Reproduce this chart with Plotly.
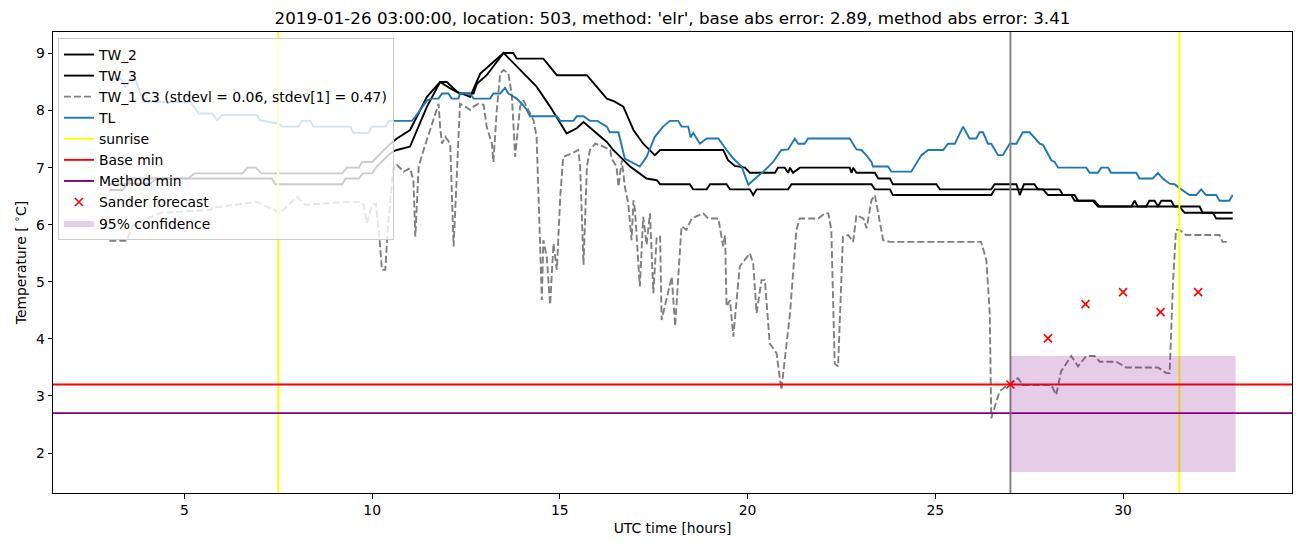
import plotly.graph_objects as go

# ---------------- data (hours UTC, temperature degC) ----------------
tw2_x = [3.0, 3.45, 3.6, 5.1, 5.27, 6.55, 6.68, 6.9, 7.05, 9.2, 9.33, 9.65, 9.73, 10.0, 10.15, 10.3, 10.45,
         10.66, 11.01, 11.46, 11.81, 11.99, 12.26, 12.61, 12.88, 13.14, 13.5, 13.76, 13.85, 14.56, 14.92, 15.72,
         16.25, 16.45, 16.69, 16.96, 17.22, 17.53, 17.67, 19.35, 19.48, 19.66, 19.93, 20.06, 20.73, 20.81, 20.99,
         21.08, 21.13, 21.21, 21.39, 22.72, 22.77, 22.81, 22.9, 23.39, 23.48, 23.79, 23.87, 25.03, 25.12, 26.49,
         26.58, 27.16, 27.25, 27.36, 27.64, 27.73, 28.31, 28.4, 28.71, 28.8, 29.2, 29.33, 30.22, 30.31, 30.39,
         30.62, 30.7, 30.84, 30.93, 31.02, 31.28, 31.37, 32.04, 32.12, 32.92]
tw2_y = [6.71, 6.71, 6.81, 6.81, 6.9, 6.9, 7.0, 7.0, 6.9, 6.9, 7.0, 7.0, 7.1, 7.1, 7.2, 7.3, 7.4,
         7.51, 7.66, 8.24, 8.5, 8.5, 8.33, 8.24, 8.65, 8.8, 9.01, 9.01, 8.91, 8.91, 8.62, 8.62,
         8.21, 8.16, 8.07, 7.66, 7.42, 7.22, 7.31, 7.31, 7.13, 7.03, 7.0, 6.91, 6.91, 7.0, 7.0,
         6.91, 7.0, 6.91, 7.0, 7.0, 6.91, 7.0, 6.91, 6.91, 6.81, 6.81, 6.71, 6.71, 6.62, 6.62,
         6.71, 6.71, 6.52, 6.71, 6.71, 6.62, 6.62, 6.52, 6.52, 6.42, 6.42, 6.32, 6.32, 6.42, 6.32,
         6.32, 6.42, 6.42, 6.32, 6.42, 6.42, 6.32, 6.32, 6.21, 6.21]

tw3_x = [3.0, 3.35, 3.47, 4.1, 4.25, 7.33, 7.42, 9.2, 9.3, 9.65, 9.75, 10.0, 10.1, 10.25, 10.4, 10.55,
         10.66, 11.01, 11.46, 11.81, 12.08, 12.34, 12.7, 12.79, 13.05, 13.5, 13.94, 14.38, 14.74, 15.18, 15.45,
         15.63, 16.07, 16.25, 16.42, 16.87, 17.31, 17.58, 17.67, 18.46, 18.55, 18.91, 19.0, 19.44, 19.53, 20.06,
         20.15, 20.24, 21.08, 21.17, 23.3, 23.39, 23.79, 23.87, 26.49, 26.58, 27.87, 28.0, 28.62, 28.71, 29.24,
         29.37, 31.5, 31.64, 32.39, 32.48, 32.92]
tw3_y = [6.61, 6.61, 6.72, 6.72, 6.81, 6.81, 6.71, 6.71, 6.81, 6.81, 6.9, 6.9, 7.0, 7.1, 7.2, 7.28,
         7.31, 7.37, 8.07, 8.5, 8.39, 8.3, 8.3, 8.47, 8.62, 9.01, 8.71, 8.42, 8.07, 7.6, 7.69,
         7.8, 7.55, 7.45, 7.31, 7.02, 6.81, 6.78, 6.71, 6.71, 6.62, 6.62, 6.71, 6.71, 6.62, 6.62,
         6.52, 6.62, 6.62, 6.71, 6.71, 6.62, 6.62, 6.52, 6.52, 6.62, 6.62, 6.52, 6.52, 6.42, 6.42,
         6.32, 6.32, 6.21, 6.21, 6.11, 6.11]

tw1_x = [3.0, 3.47, 3.61, 3.74, 4.36, 5.69, 5.78, 6.93, 7.38, 7.55, 7.73, 8.0, 8.22, 9.33, 9.68, 9.77,
         9.86, 10.0, 10.1, 10.2, 10.26, 10.35, 10.42, 10.5, 10.57, 10.66, 10.84, 11.01, 11.1, 11.15, 11.24,
         11.37, 11.55, 11.68, 11.77, 11.81, 11.86, 11.95, 12.08, 12.17, 12.26, 12.34, 12.48, 12.61, 12.7,
         12.83, 12.97, 13.05, 13.19, 13.23, 13.32, 13.41, 13.5, 13.63, 13.72, 13.81, 13.94, 14.03, 14.3,
         14.38, 14.47, 14.52, 14.56, 14.65, 14.74, 14.83, 14.92, 15.01, 15.09, 15.32, 15.49, 15.54, 15.63,
         15.72, 15.8, 15.94, 16.16, 16.34, 16.38, 16.51, 16.56, 16.65, 16.73, 16.82, 16.91, 16.96, 17.0,
         17.09, 17.13, 17.22, 17.31, 17.4, 17.49, 17.58, 17.67, 17.71, 17.84, 17.98, 18.07, 18.24, 18.37,
         18.51, 18.82, 18.95, 19.22, 19.35, 19.4, 19.44, 19.53, 19.62, 19.79, 20.06, 20.15, 20.24, 20.37,
         20.46, 20.59, 20.77, 20.9, 21.13, 21.3, 21.39, 21.88, 22.06, 22.15, 22.23, 22.32, 22.41, 22.54,
         22.68, 22.81, 22.9, 23.08, 23.17, 23.3, 23.39, 23.48, 23.61, 23.79, 26.22, 26.36, 26.45, 26.49,
         26.58, 26.71, 26.98, 27.2, 27.33, 28.09, 28.22, 28.35, 28.62, 28.8, 29.02, 29.24, 29.38, 29.82,
         30.08, 30.93, 31.15, 31.24, 31.33, 31.41, 31.5, 31.68, 32.57, 32.65, 32.83]
tw1_y = [5.72, 5.72, 5.97, 6.03, 6.21, 6.26, 6.3, 6.4, 6.26, 6.21, 6.32, 6.49, 6.35, 6.4, 6.4, 6.35,
         6.03, 6.35, 6.37, 5.73, 5.21, 5.21, 5.97, 6.55, 7.02, 7.05, 6.93, 6.99, 6.78, 5.79, 7.02,
         7.31, 7.66, 7.95, 8.12, 7.72, 7.42, 7.54, 7.42, 5.62, 6.96, 8.12, 8.07, 8.01, 8.07,
         8.12, 8.1, 7.72, 7.42, 7.1, 8.01, 8.65, 8.71, 8.65, 8.27, 7.19, 8.07, 8.18, 7.83,
         7.54, 5.73, 4.68, 5.73, 5.44, 4.6, 5.67, 5.21, 6.49, 7.19, 7.25, 7.31, 7.02, 5.3,
         7.02, 7.31, 7.42, 7.37, 7.31, 7.16, 7.02, 6.67, 7.13, 6.67, 6.38, 5.73, 6.43, 6.26,
         5.32, 4.92, 6.14, 5.65, 6.2, 4.8, 5.79, 5.79, 4.33, 4.68, 5.09, 4.22, 5.97, 5.91,
         6.11, 6.2, 6.11, 6.11, 5.62, 5.82, 4.57, 4.68, 4.04, 5.27, 5.5, 5.32, 4.45, 5.03,
         5.03, 3.92, 3.75, 3.11, 4.45, 5.91, 6.11, 6.11, 6.2, 6.2, 5.91, 3.57, 3.52, 5.79,
         5.82, 5.7, 6.17, 6.11, 5.94, 6.43, 6.52, 6.2, 5.73, 5.7, 5.7, 5.38, 4.45, 2.61,
         2.82, 3.08, 3.22, 3.31, 3.19, 3.19, 3.02, 3.43, 3.7, 3.52, 3.7, 3.7, 3.6, 3.6,
         3.5, 3.5, 3.4, 3.4, 4.97, 5.91, 5.91, 5.82, 5.82, 5.7, 5.7]

tl_x = [3.0, 3.3, 3.43, 3.56, 3.7, 3.92, 5.16, 5.38, 5.74, 5.87, 6.0, 6.93, 7.02, 7.51, 7.6, 8.04, 8.13,
        8.35, 8.44, 9.42, 9.5, 9.9, 9.99, 10.35, 10.44, 10.66, 11.06, 11.15, 11.46, 11.59, 11.77, 11.86,
        12.03, 12.12, 12.3, 12.34, 12.61, 12.7, 13.14, 13.23, 13.41, 13.54, 13.63, 13.85, 13.99, 14.12,
        14.21, 14.92, 15.01, 15.36, 15.45, 15.63, 15.8, 16.0, 16.25, 16.33, 16.56, 16.73, 16.91, 17.13,
        17.31, 17.53, 17.75, 17.93, 18.15, 18.24, 18.42, 18.48, 18.55, 18.73, 18.91, 19.22, 19.44, 19.62,
        19.84, 20.02, 20.15, 20.42, 20.68, 20.9, 21.08, 21.26, 21.35, 21.52, 21.61, 22.72, 22.9, 23.03,
        23.16, 23.3, 23.34, 23.74, 23.83, 24.36, 24.63, 24.81, 25.21, 25.34, 25.52, 25.74, 25.91, 26.09,
        26.18, 26.27, 26.4, 26.49, 26.67, 26.8, 26.98, 27.16, 27.33, 27.51, 27.78, 27.87, 28.09, 28.18,
        28.27, 29.02, 29.11, 29.33, 29.42, 29.6, 29.68, 30.35, 30.44, 30.79, 30.93, 31.06, 31.24, 31.37,
        31.55, 31.77, 31.95, 32.08, 32.21, 32.48, 32.57, 32.83, 32.92]
tl_y = [8.56, 8.56, 8.42, 8.56, 8.53, 8.15, 8.15, 7.95, 7.95, 7.83, 7.92, 7.92, 7.83, 7.77, 7.72, 7.72, 7.82,
        7.82, 7.72, 7.72, 7.61, 7.61, 7.72, 7.72, 7.82, 7.82, 7.82, 7.89, 8.18, 8.21, 8.21, 8.3,
        8.3, 8.21, 8.21, 8.3, 8.3, 8.21, 8.21, 8.3, 8.3, 8.4, 8.3, 8.21, 8.12, 8.01,
        7.9, 7.9, 7.82, 7.82, 7.9, 7.9, 7.82, 7.82, 7.72, 7.62, 7.62, 7.16, 7.1, 7.02,
        7.19, 7.54, 7.72, 7.82, 7.82, 7.72, 7.72, 7.53, 7.61, 7.42, 7.51, 7.51, 7.31, 7.16,
        7.02, 6.7, 6.78, 6.93, 7.1, 7.31, 7.32, 7.51, 7.42, 7.42, 7.51, 7.51, 7.32, 7.31,
        7.22, 7.1, 7.02, 7.02, 6.93, 6.93, 7.22, 7.31, 7.31, 7.42, 7.42, 7.72, 7.51, 7.51,
        7.62, 7.62, 7.42, 7.42, 7.22, 7.22, 7.42, 7.42, 7.62, 7.62, 7.42, 7.4, 7.13, 7.1,
        7.0, 7.0, 6.91, 6.91, 7.0, 7.0, 6.91, 6.91, 6.81, 6.81, 6.91, 6.81, 6.72, 6.71,
        6.62, 6.52, 6.52, 6.62, 6.52, 6.52, 6.42, 6.42, 6.52]

sunrise_x = [7.5, 31.5]
base_min = 3.2
method_min = 2.7
analysis_time = 27.0
sander_x = [27, 28, 29, 30, 31, 32]
sander_y = [3.2, 4.01, 4.61, 4.82, 4.47, 4.82]
conf_x = [27.0, 33.0]
conf_low = 1.667
conf_high = 3.70

title_text = ("2019-01-26 03:00:00, location: 503, method: 'elr', "
              "base abs error: 2.89, method abs error: 3.41")
tw1_label = "TW_1 C3 (stdevl = 0.06, stdev[1] = 0.47)"
x_label = "UTC time [hours]"
y_label = "Temperature [ <sup>∘</sup>C]"

# ---------------- axis limits (matplotlib-like 5% margins) ----------------
all_x = tw2_x + tw3_x + tw1_x + tl_x + sander_x + conf_x
all_y = tw2_y + tw3_y + tw1_y + tl_y + sander_y + [conf_low, conf_high]
xmin, xmax = min(all_x), max(all_x)
ymin, ymax = min(all_y), max(all_y)
xr = [xmin - 0.05 * (xmax - xmin), xmax + 0.05 * (xmax - xmin)]
yr = [ymin - 0.05 * (ymax - ymin), ymax + 0.05 * (ymax - ymin)]

LW = 1.9
FONT = "DejaVu Sans"
FS = 13.9

fig = go.Figure()
fig.add_trace(go.Scatter(x=tw2_x, y=tw2_y, mode="lines", name="TW_2",
                         line=dict(color="black", width=LW)))
fig.add_trace(go.Scatter(x=tw3_x, y=tw3_y, mode="lines", name="TW_3",
                         line=dict(color="black", width=LW)))
fig.add_trace(go.Scatter(x=tw1_x, y=tw1_y, mode="lines", name=tw1_label,
                         line=dict(color="gray", width=LW, dash="7px,3px")))
fig.add_trace(go.Scatter(x=tl_x, y=tl_y, mode="lines", name="TL",
                         line=dict(color="#1f77b4", width=LW)))
sx, sy = [], []
for s in sunrise_x:
    sx += [s, s, None]
    sy += [yr[0], yr[1], None]
fig.add_trace(go.Scatter(x=sx, y=sy, mode="lines", name="sunrise",
                         line=dict(color="yellow", width=LW)))
fig.add_trace(go.Scatter(x=xr, y=[base_min, base_min], mode="lines", name="Base min",
                         line=dict(color="red", width=LW)))
fig.add_trace(go.Scatter(x=xr, y=[method_min, method_min], mode="lines", name="Method min",
                         line=dict(color="purple", width=LW)))
fig.add_trace(go.Scatter(x=[analysis_time, analysis_time], y=yr, mode="lines", showlegend=False,
                         line=dict(color="gray", width=LW)))
fig.add_trace(go.Scatter(x=sander_x, y=sander_y, mode="markers", name="Sander forecast",
                         marker=dict(symbol="x-thin", size=8, color="red",
                                     line=dict(color="red", width=1.6))))
fig.add_trace(go.Scatter(x=[conf_x[0], conf_x[1], conf_x[1], conf_x[0], conf_x[0]],
                         y=[conf_low, conf_low, conf_high, conf_high, conf_low],
                         mode="lines", fill="toself", fillcolor="rgba(128,0,128,0.2)",
                         line=dict(width=0, color="rgba(128,0,128,0)"), name="95% confidence"))

axis_common = dict(showline=True, linecolor="black", linewidth=1, mirror=True,
                   ticks="outside", ticklen=4.5, tickwidth=1, tickcolor="black",
                   showgrid=False, zeroline=False,
                   tickfont=dict(family=FONT, size=FS, color="black"))

fig.update_layout(
    width=1302, height=547,
    margin=dict(l=53, r=10, t=32, b=54),
    plot_bgcolor="white", paper_bgcolor="white",
    font=dict(family=FONT, size=FS, color="black"),
    title=dict(text=title_text, x=0.5, xref="paper", xanchor="center",
               y=1 - 18 / 547, yref="container", yanchor="middle",
               font=dict(family=FONT, size=16.7, color="black")),
    xaxis=dict(range=xr, tickvals=[5, 10, 15, 20, 25, 30],
               title=dict(text=x_label, standoff=6,
                          font=dict(family=FONT, size=FS)), **axis_common),
    yaxis=dict(range=yr, tickvals=[2, 3, 4, 5, 6, 7, 8, 9],
               title=dict(text=y_label, standoff=6,
                          font=dict(family=FONT, size=FS)), **axis_common),
    legend=dict(x=0.004, y=0.987, xanchor="left", yanchor="top",
                bgcolor="rgba(255,255,255,0.8)", bordercolor="#cccccc", borderwidth=1,
                font=dict(family=FONT, size=FS, color="black"),
                tracegroupgap=0, itemwidth=30),
    showlegend=True,
)

fig.write_html("out.html")
